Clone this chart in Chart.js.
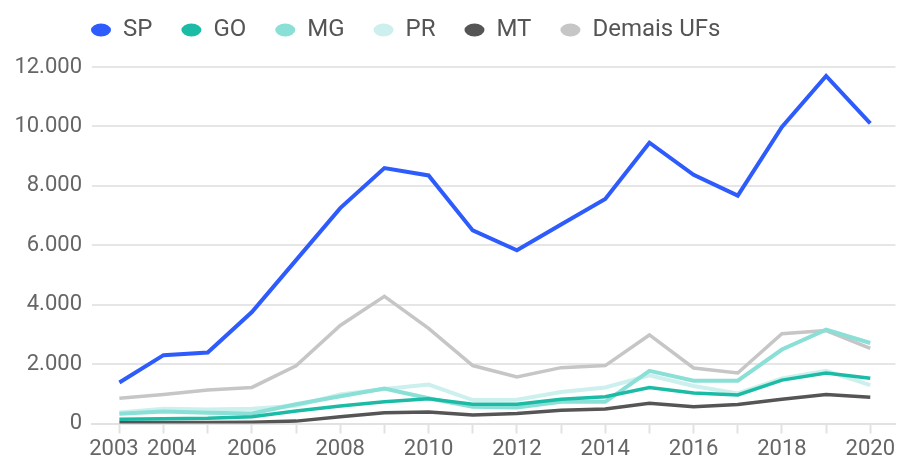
<!DOCTYPE html>
<html>
<head>
<meta charset="utf-8">
<script src="https://cdn.jsdelivr.net/npm/chart.js@4"></script>
<style>
  body { margin: 0; background: #fff; }
  #wrap { width: 898px; height: 460px; }
</style>
</head>
<body>
<div id="wrap"><canvas id="myChart"></canvas></div>
<script>
const years = [2003, 2004, 2005, 2006, 2007, 2008, 2009, 2010, 2011, 2012, 2013, 2014, 2015, 2016, 2017, 2018, 2019, 2020];
const tickLabels = ["2003", "2004", "", "2006", "", "2008", "", "2010", "", "2012", "", "2014", "", "2016", "", "2018", "", "2020"];
const yTicks = [0, 2000, 4000, 6000, 8000, 10000, 12000];

const sp = [1380, 2300, 2390, 3750, 5500, 7250, 8600, 8350, 6500, 5830, 6700, 7560, 9450, 8370, 7670, 9980, 11700, 10100];
const go = [140, 160, 175, 230, 420, 590, 730, 830, 650, 650, 820, 900, 1210, 1030, 960, 1460, 1700, 1520];
const mg = [330, 400, 360, 340, 650, 920, 1180, 850, 560, 540, 730, 730, 1770, 1440, 1440, 2490, 3160, 2710];
const pr = [370, 500, 470, 500, 600, 980, 1160, 1310, 790, 800, 1060, 1210, 1620, 1260, 1010, 1520, 1770, 1290];
const mt = [30, 30, 30, 40, 80, 230, 360, 390, 290, 340, 450, 490, 680, 560, 640, 820, 980, 880];
const demais = [850, 980, 1125, 1215, 1940, 3300, 4280, 3200, 1950, 1570, 1880, 1950, 2980, 1870, 1700, 3020, 3130, 2530];

const FONT = "Roboto";

function line(label, data, color, width) {
  return {
    label: label,
    data: data,
    borderColor: color,
    backgroundColor: color,
    borderWidth: width,
    pointRadius: 0,
    pointHoverRadius: 0,
    pointBackgroundColor: color,
    pointBorderWidth: 0,
    tension: 0,
  };
}

// legend: extra room below it, and the row moved to the right
const legendTweak = {
  id: "legendTweak",
  beforeInit(chart) {
    const fit = chart.legend.fit;
    chart.legend.fit = function () {
      fit.bind(chart.legend)();
      this.height += 15;
    };
  },
  afterLayout(chart) {
    chart.legend.left += 50;
    chart.legend.right += 50;
  },
};

const ctx = document.getElementById("myChart");

new Chart(ctx, {
  type: "line",
  data: {
    labels: years,
    datasets: [
      line("SP", sp, "#2e5cfc", 4),
      line("GO", go, "#1cbba5", 3.5),
      line("MG", mg, "#8adfd6", 4),
      line("PR", pr, "#ccf0ed", 4),
      line("MT", mt, "#555555", 3.5),
      line("Demais UFs", demais, "#c6c6c6", 3.5),
    ],
  },
  plugins: [legendTweak],
  options: {
    responsive: true,
    maintainAspectRatio: false,
    animation: false,
    layout: { padding: { top: -11, left: 12, right: 0, bottom: 0 } },
    scales: {
      x: {
        type: "linear",
        min: 2002.38,
        max: 2020.57,
        afterBuildTicks: (scale) => {
          scale.ticks = years.map((v) => ({ value: v }));
        },
        afterFit: (scale) => {
          scale.height = 36.5;
        },
        grid: {
          drawOnChartArea: false,
          drawTicks: true,
          tickLength: 10,
          tickColor: "#e2e2e2",
          tickWidth: 2,
        },
        border: { color: "#e2e2e2", width: 2 },
        ticks: {
          autoSkip: false,
          maxRotation: 0,
          minRotation: 0,
          padding: 3,
          color: "#666",
          font: { family: FONT, size: 22 },
          callback: (value) => {
            const i = years.indexOf(value);
            const t = i >= 0 ? tickLabels[i] : "";
            if (value === 2003) return t + "  ";
            if (value === 2004) return "   " + t;
            return t;
          },
        },
      },
      y: {
        min: 0,
        max: 12000,
        afterBuildTicks: (scale) => {
          scale.ticks = yTicks.map((v) => ({ value: v }));
        },
        afterFit: (scale) => {
          scale.width = 80;
        },
        grid: {
          color: "#e6e6e6",
          lineWidth: 2,
          drawTicks: false,
        },
        border: { display: false },
        ticks: {
          padding: 10,
          color: "#666",
          font: { family: FONT, size: 22 },
          callback: (value) => value.toString().replace(/\B(?=(\d{3})+(?!\d))/g, "."),
        },
      },
    },
    plugins: {
      legend: {
        position: "top",
        align: "start",
        labels: {
          usePointStyle: true,
          pointStyle: "circle",
          pointStyleWidth: 20,
          boxHeight: 9.2,
          padding: 29,
          color: "#555",
          font: { family: FONT, size: 24 },
        },
      },
      tooltip: { enabled: false },
    },
  },
});
</script>
</body>
</html>
